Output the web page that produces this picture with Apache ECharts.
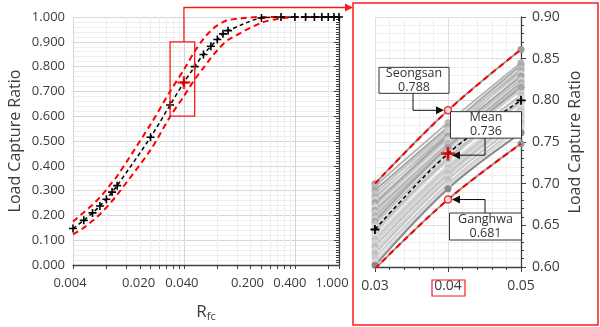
<!DOCTYPE html>
<html>
<head>
<meta charset="utf-8">
<script src="https://cdn.jsdelivr.net/npm/echarts@6/dist/echarts.min.js"></script>
<style>
html,body{margin:0;padding:0;background:#fff;}
#chart{width:600px;height:327px;}
</style>
</head>
<body>
<div id="chart"></div>
<script>
// Load capture ratio against Rfc: ensemble mean with upper / lower envelope,
// plus a zoomed panel (Rfc 0.03-0.05) showing the individual stations.

const rfc      = [0.004,0.005,0.006,0.007,0.008,0.009,0.010,0.020,0.030,0.040,0.050,0.060,0.070,0.080,0.090,0.100,0.200,0.300,0.400,0.500,0.600,0.700,0.800,0.900,1.000];
const meanLCR  = [0.147,0.180,0.210,0.238,0.265,0.294,0.320,0.515,0.645,0.736,0.800,0.849,0.882,0.909,0.932,0.945,0.996,1.000,1.000,1.000,1.000,1.000,1.000,1.000,1.000];
const upperLCR = [0.175,0.212,0.243,0.273,0.303,0.333,0.358,0.567,0.700,0.788,0.861,0.912,0.945,0.966,0.979,0.988,1.000,1.000,1.000,1.000,1.000,1.000,1.000,1.000,1.000];
const lowerLCR = [0.123,0.150,0.178,0.205,0.232,0.258,0.283,0.464,0.598,0.681,0.748,0.795,0.835,0.866,0.890,0.908,0.977,0.994,1.000,1.000,1.000,1.000,1.000,1.000,1.000];

// x-axis ticks / labels of the overview panel (log scale)
const rfcTicks  = [0.004,0.008,0.012,0.016,0.020,0.024,0.028,0.032,0.036,0.040,0.080,0.120,0.160,0.200,0.240,0.280,0.320,0.360,0.400,0.800,1.000];
const rfcMajor  = [0.004,0.040,0.400];
const rfcLabels = [0.004,0.020,0.040,0.200,0.400,1.000];

// zoomed panel
const zoomRfc = [0.03,0.04,0.05];
const zoomLCR = [0.60,0.90];
const stationNames = ['Seongsan','S02','S03','S04','S05','S06','S07','S08','S09','S10','S11','S12','S13','S14','S15','S16','S17','S18','S19','S20','S21','S22','S23','S24','S25','S26','S27','Ganghwa'];
const stationLCR = [
  [0.700,0.788,0.861],
  [0.697,0.773,0.845],
  [0.692,0.768,0.842],
  [0.688,0.765,0.838],
  [0.684,0.760,0.836],
  [0.681,0.763,0.832],
  [0.677,0.757,0.829],
  [0.674,0.754,0.825],
  [0.671,0.752,0.823],
  [0.668,0.748,0.821],
  [0.665,0.746,0.818],
  [0.661,0.744,0.815],
  [0.658,0.741,0.812],
  [0.655,0.744,0.816],
  [0.652,0.737,0.806],
  [0.648,0.733,0.803],
  [0.644,0.730,0.799],
  [0.641,0.728,0.797],
  [0.637,0.722,0.792],
  [0.633,0.719,0.788],
  [0.629,0.716,0.785],
  [0.625,0.712,0.781],
  [0.620,0.709,0.779],
  [0.616,0.705,0.774],
  [0.611,0.700,0.770],
  [0.606,0.697,0.766],
  [0.602,0.694,0.761],
  [0.598,0.681,0.748]
];
const stationShade = ['#9a9a9a','#b8b8b8','#a8a8a8','#c4c4c4','#b0b0b0','#cfcfcf','#a2a2a2','#bcbcbc','#d6d6d6','#adadad','#c8c8c8','#b4b4b4','#d0d0d0','#a6a6a6','#c0c0c0','#d8d8d8','#bababa','#cccccc','#dadada','#c6c6c6','#d2d2d2','#bfbfbf','#d4d4d4','#c2c2c2','#cdcdcd','#d9d9d9','#8a8a8a','#9a9a9a'];

const lg = v => Math.log10(v);
const FONT = '"Open Sans", "Noto Sans", sans-serif';
const TXT = '#3c3c3c';
const AX = '#404040';
const PLUS = 'path://M4,0 H6 V4 H10 V6 H6 V10 H4 V6 H0 V4 H4 Z';

const idx04 = rfc.indexOf(0.04);
const inZoom = rfc.map((v, i) => i).filter(i => rfc[i] >= zoomRfc[0] - 1e-9 && rfc[i] <= zoomRfc[2] + 1e-9);

const chart = echarts.init(document.getElementById('chart'), null, {renderer: 'canvas'});

const dashedRed = {color: '#ff0000', width: 2, type: [6, 4]};
const dashedBlack = {color: '#000', width: 1.5, type: [4, 3]};

const series = [];

// overview panel
series.push({type: 'line', xAxisIndex: 0, yAxisIndex: 0, smooth: 0.3, symbol: 'none',
  data: rfc.map((v, i) => [lg(v), upperLCR[i]]), lineStyle: dashedRed, z: 3});
series.push({type: 'line', xAxisIndex: 0, yAxisIndex: 0, smooth: 0.3, symbol: 'none',
  data: rfc.map((v, i) => [lg(v), lowerLCR[i]]), lineStyle: dashedRed, z: 3});
series.push({type: 'line', xAxisIndex: 0, yAxisIndex: 0, smooth: 0.3, symbol: PLUS, symbolSize: 8,
  data: rfc.map((v, i) => [lg(v), meanLCR[i]]), itemStyle: {color: '#000'}, lineStyle: dashedBlack, z: 4});
series.push({type: 'scatter', xAxisIndex: 0, yAxisIndex: 0, symbol: PLUS, symbolSize: 13,
  data: [[lg(rfc[idx04]), meanLCR[idx04]]], itemStyle: {color: '#ff0000'}, z: 6});

// zoomed panel: stations
stationLCR.forEach((vals, k) => {
  series.push({type: 'line', name: stationNames[k], xAxisIndex: 1, yAxisIndex: 2, smooth: 0.35,
    symbol: 'circle', symbolSize: 7, showSymbol: true,
    data: zoomRfc.map((x, j) => [x, vals[j]]),
    itemStyle: {color: stationShade[k]}, lineStyle: {color: stationShade[k], width: 2}, z: 2});
});
series.push({type: 'line', xAxisIndex: 1, yAxisIndex: 2, smooth: 0.35, symbol: 'none',
  data: inZoom.map(i => [rfc[i], upperLCR[i]]), lineStyle: dashedRed, z: 3});
series.push({type: 'line', xAxisIndex: 1, yAxisIndex: 2, smooth: 0.35, symbol: 'none',
  data: inZoom.map(i => [rfc[i], lowerLCR[i]]), lineStyle: dashedRed, z: 3});
series.push({type: 'line', xAxisIndex: 1, yAxisIndex: 2, smooth: 0.35, symbol: PLUS, symbolSize: 9,
  data: inZoom.map(i => [rfc[i], meanLCR[i]]), itemStyle: {color: '#000'}, lineStyle: dashedBlack, z: 4});
series.push({type: 'scatter', xAxisIndex: 1, yAxisIndex: 2, symbol: PLUS, symbolSize: 14,
  data: [[rfc[idx04], meanLCR[idx04]]], itemStyle: {color: '#ff0000'}, z: 6});
const first = stationLCR[0], last = stationLCR[stationLCR.length - 1];
series.push({type: 'scatter', xAxisIndex: 1, yAxisIndex: 2, symbol: 'circle', symbolSize: 7,
  data: [[zoomRfc[1], first[1]], [zoomRfc[1], last[1]]],
  itemStyle: {color: '#fff', borderColor: '#ff0000', borderWidth: 1.5}, z: 6});

const tickLabel = {color: TXT, fontFamily: FONT, fontSize: 13};

// label nudges (px to the left) for the log-axis labels, to keep them apart
const labelNudge = [3, 12, 2, 14, 5, 7];
const rfcRich = {};
labelNudge.forEach((n, i) => {
  rfcRich['l' + i] = {fontFamily: FONT, fontSize: 13, color: TXT, padding: [0, 2 * n, 0, 0]};
});
function rfcLabel(v) {
  const r = Math.pow(10, v);
  let best = 0;
  rfcLabels.forEach((x, i) => { if (Math.abs(lg(x) - v) < Math.abs(lg(rfcLabels[best]) - v)) best = i; });
  return '{l' + best + '|' + r.toFixed(3) + '}';
}

chart.setOption({
  animation: false,
  backgroundColor: '#fff',
  grid: [
    {left: 73, top: 17, width: 266, height: 250},
    {left: 375, top: 17, width: 146, height: 250}
  ],
  xAxis: [
    {gridIndex: 0, type: 'value', min: lg(0.004), max: 0,
      axisLine: {show: true, onZero: false, lineStyle: {color: AX, width: 1.3}},
      axisTick: {show: true, customValues: rfcTicks.map(lg), length: 4, lineStyle: {color: AX}},
      axisLabel: Object.assign({customValues: rfcLabels.map(lg), margin: 12,
        formatter: rfcLabel, rich: rfcRich}, tickLabel),
      splitLine: {show: true, lineStyle: {color: '#ededed', width: 1}},
      name: '{r|R}{s|fc}', nameLocation: 'middle', nameGap: 38,
      nameTextStyle: {rich: {r: {fontFamily: FONT, fontSize: 17, color: TXT}, s: {fontFamily: FONT, fontSize: 11, color: TXT, padding: [8, 0, 0, 0]}}}
    },
    {gridIndex: 1, type: 'value', min: zoomRfc[0], max: zoomRfc[2], interval: 0.01,
      axisLine: {show: true, onZero: false, lineStyle: {color: AX, width: 1.3}},
      axisTick: {show: true, length: 5, lineStyle: {color: AX}},
      minorTick: {show: true, splitNumber: 5, length: 3, lineStyle: {color: AX}},
      axisLabel: Object.assign({margin: 12, formatter: v => v.toFixed(2)}, tickLabel, {fontSize: 14}),
      splitLine: {show: true, lineStyle: {color: '#e0e0e0'}},
      minorSplitLine: {show: true, lineStyle: {color: '#efefef'}}
    },
    {gridIndex: 0, type: 'value', min: lg(0.004), max: 0,
      axisLine: {show: false}, axisLabel: {show: false},
      axisTick: {show: false, customValues: rfcMajor.map(lg)},
      splitLine: {show: true, lineStyle: {color: '#d6d6d6', width: 1}}
    }
  ],
  yAxis: [
    {gridIndex: 0, type: 'value', min: 0, max: 1, interval: 0.1,
      axisLine: {show: true, lineStyle: {color: AX, width: 1.3}},
      axisTick: {show: true, length: 5, lineStyle: {color: AX}},
      minorTick: {show: true, splitNumber: 10, length: 3, lineStyle: {color: AX}},
      axisLabel: Object.assign({margin: 8, formatter: v => v.toFixed(3)}, tickLabel),
      splitLine: {show: true, lineStyle: {color: '#d6d6d6'}},
      name: 'Load Capture Ratio', nameLocation: 'middle', nameGap: 50,
      nameTextStyle: {fontFamily: FONT, fontSize: 16, color: TXT}
    },
    {gridIndex: 0, type: 'value', min: 0, max: 1, interval: 0.1,
      axisLine: {show: false}, axisTick: {show: false}, axisLabel: {show: false},
      splitLine: {show: false},
      minorTick: {show: false, splitNumber: 5},
      minorSplitLine: {show: true, lineStyle: {color: '#efefef'}}
    },
    {gridIndex: 1, type: 'value', position: 'right', min: zoomLCR[0], max: zoomLCR[1], interval: 0.05,
      axisLine: {show: true, lineStyle: {color: AX, width: 1.3}},
      axisTick: {show: true, length: 5, lineStyle: {color: AX}},
      minorTick: {show: true, splitNumber: 5, length: 3, lineStyle: {color: AX}},
      axisLabel: Object.assign({margin: 11, formatter: v => v.toFixed(2)}, tickLabel, {fontSize: 14}),
      splitLine: {show: true, lineStyle: {color: '#e0e0e0'}},
      minorSplitLine: {show: true, lineStyle: {color: '#efefef'}},
      name: 'Load Capture Ratio', nameLocation: 'middle', nameGap: 46,
      nameTextStyle: {fontFamily: FONT, fontSize: 16, color: TXT}
    }
  ],
  series: series
});

// ---- overlays: zoom frame, connector and callouts ----
const px = (g, x, y) => chart.convertToPixel({gridIndex: g}, [x, y]);
const RED = '#ff1a1a';
const g = [];

// frame around the zoomed region on the overview panel
const fTL = px(0, lg(zoomRfc[0]), zoomLCR[1]);
const fBR = px(0, lg(zoomRfc[2]), zoomLCR[0]);
g.push({type: 'rect', shape: {x: fTL[0], y: fTL[1], width: fBR[0] - fTL[0], height: fBR[1] - fTL[1]},
  style: {fill: 'none', stroke: RED, lineWidth: 1.3}, z: 100});

// frame around the zoomed panel
const panel = {x: 353, y: 3, w: 245, h: 322};
g.push({type: 'rect', shape: {x: panel.x, y: panel.y, width: panel.w, height: panel.h},
  style: {fill: 'none', stroke: RED, lineWidth: 1.5}, z: 100});

// connector from the frame to the panel
const cx = px(0, lg(zoomRfc[1]), 0)[0];
const cy = 7.5;
g.push({type: 'polyline', shape: {points: [[cx, fTL[1]], [cx, cy], [panel.x - 6, cy]]},
  style: {fill: 'none', stroke: RED, lineWidth: 1.3}, z: 100});
g.push({type: 'polygon', shape: {points: [[panel.x, cy], [panel.x - 8, cy - 4], [panel.x - 8, cy + 4]]},
  style: {fill: RED}, z: 100});

// highlight box around the 0.04 tick label
const t04 = px(1, zoomRfc[1], zoomLCR[0]);
g.push({type: 'rect', shape: {x: t04[0] - 16, y: t04[1] + 13, width: 33, height: 16},
  style: {fill: 'none', stroke: RED, lineWidth: 1.2}, z: 100});

function arrow(tx, ty, dir) {
  return {type: 'polygon', shape: {points: [[tx, ty], [tx - dir * 8, ty - 4], [tx - dir * 8, ty + 4]]},
    style: {fill: '#111'}, z: 101};
}
function callout(bx, by, bw, bh, name, value) {
  g.push({type: 'rect', shape: {x: bx, y: by, width: bw, height: bh},
    style: {fill: '#fff', stroke: '#333', lineWidth: 1}, z: 101});
  g.push({type: 'text', x: bx + bw / 2, y: by + bh / 2, z: 102,
    style: {text: name + '\n' + value.toFixed(3), align: 'center', verticalAlign: 'middle',
      fontFamily: FONT, fontSize: 12.5, lineHeight: 14, fill: '#333'}});
}

// Seongsan (upper)
const pS = px(1, zoomRfc[1], first[1]);
callout(pS[0] - 69, pS[1] - 43, 70, 26, stationNames[0], first[1]);
g.push({type: 'polyline', shape: {points: [[pS[0] - 35, pS[1] - 17], [pS[0] - 35, pS[1]], [pS[0] - 10, pS[1]]]},
  style: {fill: 'none', stroke: '#111', lineWidth: 1}, z: 101});
g.push(arrow(pS[0] - 4, pS[1], 1));

// Mean
const pM = px(1, zoomRfc[1], meanLCR[idx04]);
callout(pM[0] + 2.5, pM[1] - 42, 71, 26.5, 'Mean', meanLCR[idx04]);
g.push({type: 'polyline', shape: {points: [[pM[0] + 37, pM[1] - 15.5], [pM[0] + 37, pM[1] + 1.5], [pM[0] + 12, pM[1] + 1.5]]},
  style: {fill: 'none', stroke: '#111', lineWidth: 1}, z: 101});
g.push(arrow(pM[0] + 4, pM[1] + 1.5, -1));

// Ganghwa (lower)
const pG = px(1, zoomRfc[1], last[1]);
callout(pG[0] + 1.5, pG[1] + 13.5, 72, 27, stationNames[stationNames.length - 1], last[1]);
g.push({type: 'polyline', shape: {points: [[pG[0] + 37, pG[1] + 13.5], [pG[0] + 37, pG[1]], [pG[0] + 12, pG[1]]]},
  style: {fill: 'none', stroke: '#111', lineWidth: 1}, z: 101});
g.push(arrow(pG[0] + 4, pG[1], -1));

chart.setOption({graphic: g});
</script>
</body>
</html>
